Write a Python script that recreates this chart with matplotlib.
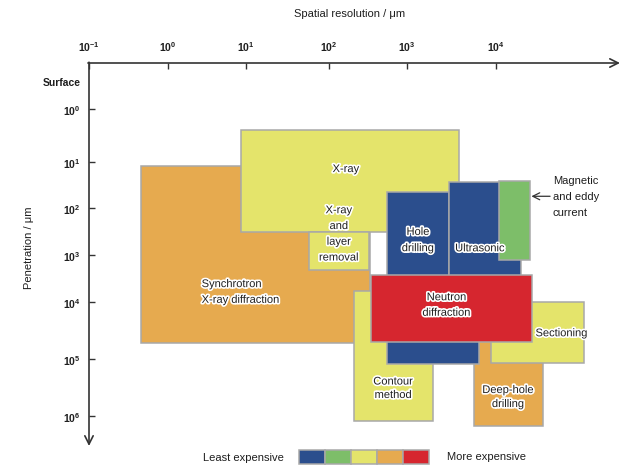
import numpy as np
import matplotlib
matplotlib.use("Agg")
import matplotlib.pyplot as plt
from matplotlib.patches import Rectangle
from matplotlib.ticker import NullLocator
import matplotlib.patheffects as pe

plt.rcParams['font.family'] = ['Liberation Sans', 'DejaVu Sans']
plt.rcParams['mathtext.fontset'] = 'custom'
plt.rcParams['mathtext.rm'] = 'Liberation Sans'
plt.rcParams['mathtext.bf'] = 'Liberation Sans:bold'

# ---------------- data (µm) ----------------
methods = ["Synchrotron X-ray diffraction", "X-ray", "X-ray and layer removal",
           "Deep-hole drilling", "Sectioning", "Contour method",
           "Ultrasonic (deep)", "Hole drilling", "Ultrasonic",
           "Magnetic and eddy current", "Neutron diffraction"]
res_min = [0.46, 8.55, 57.4, 5700, 8710, 211, 550, 550, 2965, 10800, 343]
res_max = [336, 3870, 329, 33500, 98200, 1977, 6490, 2965, 19100, 24100, 25600]
pen_min = [12.4, 2.49, 326, 24400, 9860, 5750, 5280, 45, 27.4, 25.3, 2670]
pen_max = [53500, 326, 2055, 1.5e6, 1.2e5, 1.22e6, 1.24e5, 8700, 5280, 1260, 51400]
cost_cat = ["orange", "yellow", "yellow", "orange", "yellow", "yellow",
            "blue", "blue", "blue", "green", "red"]

x_ticks = [0.1, 1, 10, 100, 1e3, 1e4]
x_tick_labels = [r"$\mathbf{10^{-1}}$", r"$\mathbf{10^{0}}$", r"$\mathbf{10^{1}}$",
                 r"$\mathbf{10^{2}}$", r"$\mathbf{10^{3}}$", r"$\mathbf{10^{4}}$"]
y_ticks = [1, 10, 100, 1e3, 1e4, 1e5, 1e6]
y_tick_labels = [r"$\mathbf{10^{%d}}$" % i for i in range(7)]

legend_order = ["blue", "green", "yellow", "orange", "red"]

# ---------------- styles ----------------
colors = {"blue": "#2B4E8D", "green": "#7DBE69", "yellow": "#E4E46B",
          "orange": "#E6AA4F", "red": "#D6262F"}
edge = "#A8A8A8"
txt = "#1E1E1E"

# axis drawing scale (decade spacing as drawn in the reference)
XE = np.array([-3, -1, 0, 1, 2, 3, 4, 8], float)
XP = np.array([-69, 89, 168, 246, 329, 407, 496, 852], float)
YE = np.array([-2, 0, 1, 2, 3, 4, 5, 6, 9], float)
YP = np.array([4, 110, 163, 209.3, 256, 303, 359.7, 416.7, 587.7], float)

def xf(v):
    return np.interp(np.log10(np.clip(np.asarray(v, float), 1e-30, None)), XE, XP)
def xi(p):
    return 10 ** np.interp(np.asarray(p, float), XP, XE)
def yf(v):
    return np.interp(np.log10(np.clip(np.asarray(v, float), 1e-30, None)), YE, YP)
def yi(p):
    return 10 ** np.interp(np.asarray(p, float), YP, YE)

W, H = 633, 477
fig = plt.figure(figsize=(W / 100, H / 100), dpi=100)
ax = fig.add_axes([89 / W, 1 - 447 / H, (620 - 89) / W, (447 - 64) / H])
ax.set_xscale('function', functions=(xf, xi))
ax.set_yscale('function', functions=(yf, yi))
ax.set_xlim(xi(89), xi(620))
ax.set_ylim(yi(447), yi(64))

for s in ax.spines.values():
    s.set_visible(False)
ax.patch.set_alpha(0)

# rectangles
for i in range(len(methods)):
    ax.add_patch(Rectangle((res_min[i], pen_min[i]),
                           res_max[i] - res_min[i], pen_max[i] - pen_min[i],
                           facecolor=colors[cost_cat[i]], edgecolor=edge,
                           linewidth=1.1, zorder=2 + i))

halo = [pe.withStroke(linewidth=2.4, foreground="white")]
labels = [
    ("X-ray", 165, 14.2, "center", 1.2),
    ("X-ray\nand\nlayer\nremoval", 134, 353, "center", 1.72),
    ("Synchrotron\nX-ray diffraction", 2.7, 6120, "left", 1.72),
    ("Hole\ndrilling", 1330, 478, "center", 1.78),
    ("Ultrasonic", 6610, 719, "center", 1.2),
    ("Neutron\ndiffraction", 2790, 11300, "center", 1.69),
    ("Sectioning", 54700, 35600, "center", 1.2),
    ("Contour\nmethod", 667, 3.3e5, "center", 1.43),
    ("Deep-hole\ndrilling", 13700, 4.7e5, "center", 1.5),
]
for t, x, y, ha, ls in labels:
    ax.text(x, y, t, ha=ha, va="center", fontsize=8, color=txt,
            linespacing=ls, zorder=50, path_effects=halo)

# magnetic label with arrow
ax.annotate("", xy=(24100, 55), xytext=(40500, 55),
            arrowprops=dict(arrowstyle="->,head_length=0.5,head_width=0.25",
                            color="#333333", lw=0.9, shrinkA=0, shrinkB=1),
            zorder=50)
ax.text(43600, 55, "Magnetic\nand eddy\ncurrent", ha="left", va="center",
        fontsize=8, color=txt, linespacing=1.77, zorder=50)

# ticks
ax.xaxis.set_ticks_position('top')
ax.set_xticks(x_ticks)
ax.set_xticklabels(x_tick_labels)
ax.set_yticks(y_ticks)
ax.set_yticklabels(y_tick_labels)
ax.xaxis.set_minor_locator(NullLocator())
ax.yaxis.set_minor_locator(NullLocator())
ax.tick_params(axis='x', direction='in', length=4.5, width=1.0, color="#333333",
               pad=7, labelsize=7.5, labelcolor=txt)
ax.tick_params(axis='y', direction='in', length=4, width=1.0, color="#333333",
               pad=6, labelsize=7.5, labelcolor=txt)

# axis arrows
ax.annotate("", xy=(1, 1), xycoords="axes fraction", xytext=(-0.002, 1),
            arrowprops=dict(arrowstyle="->,head_length=0.6,head_width=0.3",
                            color="#333333", lw=1.2, shrinkA=0, shrinkB=0))
ax.annotate("", xy=(0, 0), xycoords="axes fraction", xytext=(0, 1.002),
            arrowprops=dict(arrowstyle="->,head_length=0.6,head_width=0.3",
                            color="#333333", lw=1.2, shrinkA=0, shrinkB=0))

# Surface label
fig.text(81 / W, 1 - 83 / H, "Surface", ha="right", va="center", fontsize=7.5,
         fontweight="bold", color=txt)

# axis titles
fig.text(350 / W, 1 - 14 / H, "Spatial resolution / μm", ha="center", va="center",
         fontsize=8, color=txt)
fig.text(29 / W, 1 - 248 / H, "Penetration / μm", ha="center", va="center",
         rotation=90, fontsize=8, color=txt)

# cost legend
x0, sw, y0, sh = 299, 26.06, 450.7, 14
for k, c in enumerate(legend_order):
    fig.patches.append(Rectangle(((x0 + k * sw) / W, 1 - (y0 + sh) / H), sw / W, sh / H,
                                 transform=fig.transFigure, facecolor=colors[c],
                                 edgecolor=edge, linewidth=1.1))
fig.text(203 / W, 1 - 458.5 / H, "Least expensive", ha="left", va="center",
         fontsize=8, color=txt)
fig.text(447 / W, 1 - 457.5 / H, "More expensive", ha="left", va="center",
         fontsize=8, color=txt)

fig.savefig("out.png", dpi=100)
